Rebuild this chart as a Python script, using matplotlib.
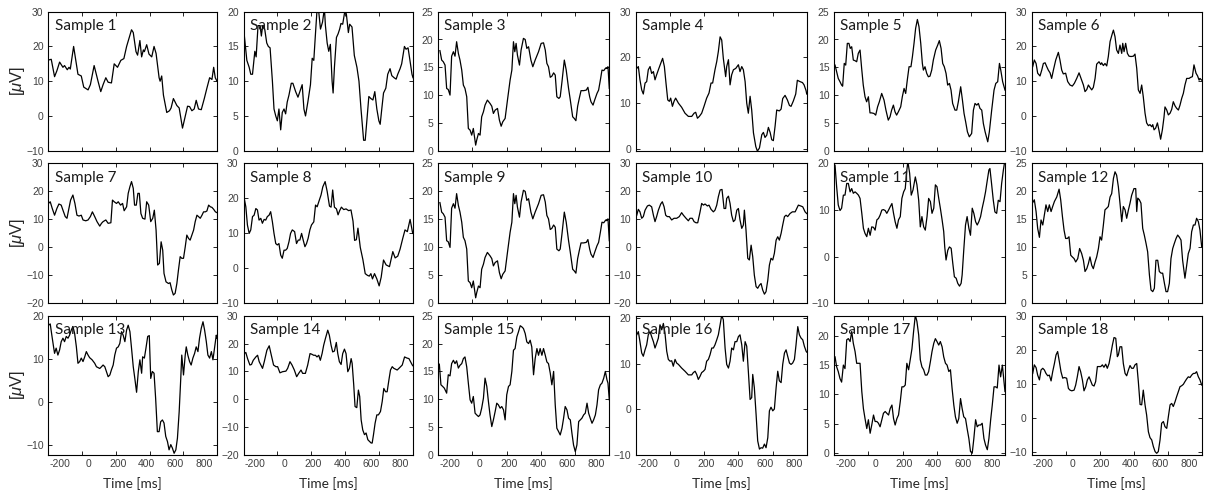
import matplotlib
matplotlib.use("Agg")
import matplotlib.pyplot as plt
from matplotlib.ticker import MultipleLocator

# ---------------- data (time in ms, amplitude in microvolts) ----------------
t1 = [-280,-261,-238,-222,-203,-180,-169,-150,-138,-129,-106,-76,-53,-36,-6,10,36,63,82,98,117,133,156,175,198,221,242,261,295,307,326,337,353,365,377,384,400,416,435,451,465,486,493,504,516,539,558,569,585,609,625,648,662,683,697,713,729,743,759,778,799,817,836,852,864,875,887]
v1 = [16.1,16.3,11.3,13,15.5,14,14.5,13.3,14,13.5,20,12,11.5,8.3,7.5,9,14.5,10,7,9,11,9.7,9.5,15,14,16,16.5,20,24.8,24,18.5,17.5,21.7,17,19,18.5,20.5,17.8,17,20,18,11,10,11.5,6,1,1.5,2.3,5,3,2.3,-3.5,-1,2.8,2.7,1.5,2,4.5,2,1.8,5,8,11,10.5,14,11,10]

t2 = [-275,-257,-241,-230,-218,-202,-193,-180,-166,-157,-148,-134,-120,-109,-97,-81,-70,-58,-47,-36,-24,-13,-1,10,21,33,49,60,79,95,108,124,136,147,163,181,193,204,216,227,238,250,264,277,284,296,307,318,330,337,346,360,371,382,391,403,417,428,442,451,467,483,501,515,529,547,558,570,583,597,611,624,638,652,661,672,684,700,713,729,741,757,771,782,798,809,828,839,853,866,880,887]
v2 = [16.7,13,12,11,11,14.3,13.5,18,18,16.5,18,17.5,15.5,15,14.8,10,6,5,4.3,6,3,5.5,6,5.3,7,8,9.7,9.7,8.5,7.7,8.5,9.5,6,5,7,9.5,13.3,13,17,20.5,20,17.5,18.5,20.5,18,15.5,14.3,15.3,10,8.3,12,16.3,16.8,17.5,18.3,18.2,20,19.7,17,18.2,17.8,13.7,12,10,6,1.5,1.5,4.5,7.8,7.5,7.3,8.5,6,4.3,3.8,6,8.3,9,11,11.8,10.8,10.5,10.3,11,11.8,12.5,15,14.6,14.8,13,11,10.5]

t3 = [-269,-257,-246,-234,-223,-212,-200,-189,-177,-166,-155,-143,-132,-120,-109,-98,-86,-75,-63,-52,-41,-25,-18,-6,5,16,28,39,55,73,85,96,108,124,137,149,160,176,192,210,222,233,242,251,260,274,285,301,313,324,336,352,365,381,404,422,438,450,461,472,484,495,507,518,529,543,552,564,580,593,609,621,637,648,659,671,682,694,712,730,741,753,762,776,787,803,814,826,837,849,860,871,878,887]
v3 = [18,16.3,16,15.4,11.2,11,10,17,17.8,17,19.6,17.5,16.3,14.5,11.8,11.2,9.7,4,3.7,2.8,4,1.0,1.9,3.1,2.8,6.1,7,8.2,9.1,8.5,8,6.7,7.3,7.6,5.5,4.4,5.2,5.8,9.1,12.7,14.5,19.6,17.8,19.3,17.2,15.4,18.1,20.2,20,18.4,18.7,16.3,15.1,16.3,17.8,19.3,19.4,18.1,15.7,15.1,13.2,13.4,14,13.6,9.7,9.4,9.7,12.4,16.3,14.5,11.2,9.1,6.1,5.8,5.4,8,9.4,10.8,10.8,10.9,11.4,9.7,8.8,8.2,9.1,10.3,10.9,12.7,14.5,14.4,14.8,14.8,15.1,11.2]

t4 = [-275,-264,-253,-241,-230,-218,-207,-196,-184,-173,-161,-150,-139,-127,-111,-98,-86,-75,-63,-52,-43,-31,-20,-9,10,32,55,78,101,117,128,140,153,169,185,203,219,233,244,260,272,283,295,306,317,333,340,352,363,374,386,402,420,431,443,454,466,477,488,500,511,523,539,550,564,580,591,602,614,625,637,648,659,671,682,700,712,723,739,755,769,780,796,812,823,842,858,869,883,887]
v4 = [17.6,18,15.1,12.9,12,14.4,14.7,17.3,18,16.5,16.9,15.1,16.2,17.3,18.7,19.8,18,14.4,10.7,10.4,11.1,9.3,10.4,11.1,10,9.1,7.8,7.1,7.1,7.8,8,6.7,7.1,7.8,9.3,11.1,12.2,14.4,14.4,17.3,19.1,21.3,24.5,23.8,19.8,15.8,18,19.5,14,16.2,17.3,17.6,18.4,16.9,18,17.3,14.7,10,7.8,11.5,8.5,3.5,0.5,-0.5,0.2,3.1,3.6,2.5,3,4.7,3.6,2,1.8,5,8.5,8.3,8.7,11,11.7,10.7,9.5,9.3,10.5,12,15,14.7,14.5,14,12.7,12]

t5 = [-275,-264,-253,-241,-230,-223,-212,-202,-191,-180,-171,-161,-150,-139,-127,-116,-104,-93,-82,-70,-59,-47,-36,-25,-9,3,16,28,44,60,73,89,101,112,124,135,146,158,174,185,197,208,219,231,244,254,265,276,288,299,311,322,329,340,352,363,374,386,397,413,427,438,450,461,472,484,495,507,518,529,545,557,568,584,596,607,618,630,643,659,671,682,694,705,716,728,739,751,769,780,796,812,824,837,849,858,871,887]
v5 = [15.4,14.2,13,12.4,11.8,11.6,15.7,15.4,19.3,19.3,18.4,18.7,16.3,16.2,16,17.5,18.1,14.8,11.8,9.7,8.8,9.7,6.8,6.8,6.7,6.4,7.9,8.8,10.3,9.1,7.3,5.5,6.1,7.3,8.2,7,6.4,7,7.9,9.7,11.2,10.3,12.7,15.1,15.1,16.9,19.3,22,23.6,22.3,19.3,15.7,14.5,15.1,13.9,13.3,13.4,14.5,16.3,18.1,19,19.8,18.4,15.7,15.1,13.9,11.8,12.1,10.9,8.5,7.3,7.3,8.8,11.5,9.1,6.7,5.2,3.4,2.5,3.1,7.3,8.5,8.2,8.5,7.6,7.3,4.9,3.4,1.6,3.4,7.3,10.9,12.1,12.4,15.7,14.5,12.4,10.9]

t6 = [-273,-262,-250,-239,-223,-211,-200,-188,-177,-166,-154,-143,-131,-115,-97,-86,-74,-63,-47,-33,-17,-1,13,29,45,63,75,86,98,109,120,132,143,155,166,182,194,200,212,223,235,246,258,274,281,292,303,315,326,338,345,354,365,377,388,402,418,429,441,452,464,475,486,498,509,521,532,544,551,560,571,583,594,605,617,628,635,647,658,670,681,692,704,715,727,738,750,761,772,784,800,811,823,834,848,859,869,875,887]
v6 = [14.2,16.1,15.1,12.3,11.5,13.2,15.1,15.3,14.2,13.2,12.4,10.8,13.2,16.1,18.3,16.1,13.2,12.1,12.3,9.9,8.9,8.6,9.4,10.8,12.4,10.3,8.9,7,7.6,8.9,8.2,7.5,8.2,10.8,14.9,15.6,14.8,15.3,14.5,15.1,14.4,17.1,21.4,23.8,24.7,22.8,19,18,20.4,18,20.9,18.5,20.9,18,17.2,17.1,17.2,17.8,13.7,7.5,6.5,8.9,5.5,0.8,-2,-2.8,-2.5,-3.1,-2.5,-4,-3.5,-2,-4.2,-6.7,-4,-0.4,2.6,1.7,0.3,0.8,1.9,4.1,2.9,2.2,1.7,3.1,5.1,6.5,8.9,10.8,10.8,11.1,11.3,14.7,12.3,11.5,10.3,10.8,10.3]

t7 = [-280,-268,-254,-238,-222,-208,-192,-180,-164,-152,-141,-127,-111,-97,-83,-69,-53,-41,-22,-6,10,24,40,56,75,87,98,117,133,152,163,175,191,203,219,233,244,261,272,284,295,307,316,328,339,349,360,372,388,400,414,428,442,453,465,476,488,500,511,520,534,551,562,574,585,597,609,620,632,643,655,667,678,690,701,713,725,736,748,759,771,783,794,806,817,829,841,852,864,876,887]
v7 = [15.7,16.3,13.9,11.5,13.9,15.5,15.1,13.3,11,10.4,13.3,16.9,18.7,15.7,11.5,11.2,11.5,9.8,9.5,9.8,11,12.7,11,9.2,7.6,8.6,9.2,9.8,8.6,8.8,16.9,16.3,15.7,16.3,15.1,15.7,13.1,14.5,19.3,21.7,23.5,21.1,15.1,15.1,19.3,19.3,12.1,10.4,10.1,16.3,15.1,9.2,10.4,13.3,6.2,-6.3,-5.7,2,-1,-9.3,-12.3,-12.9,-12.6,-15.2,-17,-16.4,-12.9,-8.1,-3.3,-3.9,-3.9,0.2,4.4,3.2,2.6,4.4,6.2,9.2,11.5,11,10.4,11.5,12.7,12.7,13,15.1,14.5,14.3,13.6,12.7,12.4]

t8 = [-275,-264,-253,-241,-230,-218,-207,-195,-184,-173,-161,-150,-138,-127,-116,-104,-93,-81,-70,-58,-47,-36,-24,-13,-1,10,21,33,44,56,72,85,97,108,120,131,143,154,165,177,188,204,216,227,238,254,266,282,296,312,323,334,346,360,371,382,394,410,426,444,460,474,485,497,508,524,542,558,574,586,597,608,622,638,654,668,684,702,725,748,764,782,798,816,832,848,867,885]
v8 = [20,17.6,12.4,10,11,14.8,15.2,17.1,16.7,13.8,14.3,12.9,14,13.8,14.8,15.2,16.2,13.3,10,7.1,6.7,7.1,3.8,2.9,5.2,5.2,5.7,7.6,10,11,10.5,7.1,8.1,8.1,10,8.1,6.2,7.1,8.6,11,12.4,13.3,18.1,17.6,19,21,23.3,24.8,22,17.8,17.5,22.4,17.5,17,15.3,16.5,17.5,16.8,17,16.5,16.7,13.5,8,8.2,11.5,6,2.5,-1.5,-2,-2.2,-1.5,-3,-1.5,-3,-5,-2.5,2.4,1,0.5,4.8,3,3.5,5.5,8.5,11,10.5,14,10]

t9 = list(t3)
v9 = list(v3)

t10 = [-275,-264,-253,-241,-230,-218,-202,-189,-173,-161,-150,-139,-127,-111,-100,-88,-77,-66,-52,-36,-20,-2,16,32,44,62,78,89,105,117,130,142,158,169,181,192,208,219,233,249,260,272,283,295,308,322,333,340,352,363,374,386,397,409,420,431,443,454,461,472,484,495,507,518,529,541,552,564,575,586,598,609,621,632,643,655,666,678,689,700,712,723,735,746,757,773,789,808,819,830,846,860,876,887]
v10 = [11.5,13.6,12.7,10.4,11,13.3,14.8,15.1,14.5,11.5,9.2,11,13.3,15.5,16.3,14.5,11.5,11,11,9.8,10.4,10.4,11,12.4,11.5,10.4,9.5,10.4,10.4,9.2,8.8,8.8,12.7,15.7,15.1,15.5,14.8,15.1,13.6,12.7,13.3,15.1,18.1,20.5,20.7,13.9,13.9,17.5,18.3,15.7,11.5,9.2,9.8,13.3,13.9,9.8,6.8,8,13.3,6.2,-3.9,-4.5,0.8,-3.3,-9.9,-14,-14.6,-13.5,-12.9,-15.2,-16.7,-15.8,-11.7,-6.3,-3.9,-4.5,-2.1,2.6,3.8,2.6,5,8,11,11.5,11,12.1,12.7,12.7,13.9,15.1,14.8,14.5,12.7,12.1]

t11 = [-275,-264,-253,-241,-230,-218,-207,-195,-184,-172,-161,-150,-138,-127,-115,-104,-92,-81,-70,-58,-47,-35,-24,-12,-1,11,22,33,45,56,68,79,91,102,114,125,136,148,159,171,182,194,205,216,223,235,246,258,274,285,297,308,319,331,342,354,365,377,388,400,411,422,434,445,457,468,475,484,496,507,519,530,541,553,564,576,587,594,605,617,628,640,651,663,674,686,697,708,720,731,743,754,766,777,784,795,807,818,830,841,853,864,876,885]
v11 = [19.6,15,11.1,9.9,10.4,13.2,13.2,15.7,15.7,13.9,14.6,13.6,13.9,13.6,13.2,12.5,9.3,6.1,5,4.3,6.1,4.6,6.4,6.3,5.7,7.9,8.2,8.9,10,10.1,9.9,9.3,10,10.7,11.4,9.3,7.5,6.1,7.9,8.6,12.5,13.9,14.6,18.6,20.4,17.9,13.2,14.3,17.1,15.4,12.1,6.4,8.6,6.4,5.7,8.6,12.5,11.8,9.3,10.4,15.4,15,12.5,10.4,7.9,5.4,2.1,-0.7,1.4,2.1,1.8,-1.4,-4.3,-4.6,-5.7,-6.3,-5.7,-3.9,1.4,6.8,8.6,6.1,4.6,10.4,9.3,7.5,6.8,7.5,8.6,10.4,12.1,13.9,16.4,18.6,18.9,15.7,12.1,9.6,9.3,12.1,11.8,15.7,18.6,20.4]

t12 = [-273,-262,-250,-239,-227,-216,-204,-193,-182,-170,-159,-147,-136,-124,-108,-92,-81,-69,-58,-47,-35,-24,-12,-1,11,22,36,49,63,75,86,98,109,120,132,143,155,166,178,189,200,212,223,235,246,258,269,281,292,303,315,326,338,349,361,372,384,395,406,422,434,441,448,459,470,482,493,505,516,528,539,551,562,573,585,596,608,619,631,642,653,665,676,688,699,711,722,734,745,756,772,784,795,807,818,830,841,852,864,875,887]
v12 = [18,18.5,16.4,13.4,11.8,14.9,14,15.8,17.6,16.4,17.6,16.4,17.3,18.2,19,20.4,18.5,15.5,13.1,11.6,11.6,11.9,8.6,8.3,8,7.4,8,9.8,8.9,7.7,5.7,6.2,7.1,8.3,6.8,6.2,7.4,8.3,9.8,11.9,11.3,14,16.7,17,17.3,19,19.6,22.3,23.5,22.9,20.8,17.9,14.6,17.3,16.7,15.2,16.7,17.9,19.3,20.5,20.5,16.4,18.8,18.5,17.9,13.4,12.2,10.7,9.2,5.1,2.4,2.1,2.7,7.7,7.7,5.7,5.4,5.4,3.6,2.1,2.1,3.6,8,9.8,10.7,11.6,12.2,11.8,11.3,7.7,4.5,6.8,8.9,9.8,12.8,14,14,15.2,14.6,13.1,10.1]

t13 = [-280,-268,-257,-245,-238,-227,-215,-203,-192,-180,-169,-157,-145,-134,-122,-111,-99,-87,-76,-64,-53,-41,-29,-18,-6,5,22,40,52,75,87,98,110,121,133,145,156,168,179,191,203,214,226,237,249,261,272,284,295,307,319,330,342,353,365,372,384,395,407,418,428,439,451,462,474,486,497,509,520,532,544,555,567,578,590,602,613,625,636,643,655,667,674,685,697,708,720,732,743,755,766,778,790,801,813,824,836,848,859,871,882,887]
v13 = [17.8,18.1,15.5,12.8,11.3,12.5,10.9,12.1,14,14.8,14,15.2,14.8,15.5,16.7,17.5,15.9,12.8,9,9.4,10.2,9.4,10.5,11.7,10.9,10.3,9.8,9,8.2,7.8,8.2,8.6,8.2,7.1,5.9,6.3,7.5,8.6,10.9,12.5,12.8,13.6,16.3,15.5,14,16.7,17.8,16.3,12.5,8.2,5.2,2.3,7.1,9.8,6.7,10.5,10.2,12.5,15.2,15.4,5.5,7.1,6.7,0.9,-6.8,-6.8,-4.5,-4.1,-4.8,-7.9,-9.1,-11,-9.8,-10.6,-11.8,-11,-8.3,-2.2,5.5,10.9,6.3,10.9,12.8,10.9,9.4,8.6,10.2,11.3,12.8,11.7,14.8,17.1,18.6,16.7,14,10.9,10.2,11.7,9.8,12.8,15.5,14.8]

t14 = [-275,-264,-252,-236,-225,-213,-195,-183,-172,-149,-137,-119,-103,-91,-73,-57,-45,-29,-11,12,24,40,54,70,86,100,116,127,146,162,178,189,203,215,226,238,249,261,272,284,300,311,323,334,346,359,369,380,392,403,415,426,438,449,461,468,479,488,500,511,520,530,541,553,564,576,587,599,606,615,626,638,649,663,675,686,698,709,721,732,744,755,767,778,794,813,829,845,859,870,882,887]
v14 = [16.4,16.8,14.6,12.3,12.5,14,15.2,15.8,13.5,11.1,13.5,17.6,19.2,16.4,12.3,11.7,11.7,9.5,9.9,10.1,11.1,13.5,12.3,10.5,8.1,9.3,10.5,9.3,9.3,12.3,16.4,16.2,15.8,15.8,15.2,15.8,14,16.4,19.4,21.8,24.8,23,19.4,17,17.3,20.4,16.4,13.5,12.5,16.4,18,16.4,9.9,11.1,14.6,12.9,5.1,-2.6,-3,3.3,1,-7.4,-11,-12.7,-12.1,-14.5,-15.1,-15.7,-15.7,-12.7,-8.6,-5.6,-5.6,-4.4,-0.8,3.9,2.7,2.7,6.9,10.5,11.7,11.1,10.8,10.5,11.3,12.3,15.2,14.8,14.6,13.5,12.3,12]

t15 = [-273,-262,-250,-239,-223,-212,-200,-189,-177,-166,-155,-143,-132,-120,-109,-98,-86,-75,-63,-52,-41,-29,-18,-6,5,16,28,39,51,62,73,85,96,108,119,130,142,153,165,176,187,199,210,222,233,244,256,267,279,290,301,313,324,336,347,358,370,381,393,404,415,427,438,450,461,472,484,495,507,518,529,541,552,564,575,586,598,609,621,632,643,655,666,678,689,700,712,723,735,746,757,769,780,792,803,814,826,837,849,860,871,878,887]
v15 = [16.3,12.6,12.3,12,11.1,14.4,14.2,16.4,17,16.4,16.9,15.6,16.1,16.4,17.3,17.6,15.8,12.9,9.9,9.3,10.5,7.5,7.2,6.9,7.2,8.4,10.2,13.8,12.3,9.6,7.2,5.1,6.3,7.8,9.3,9,8.4,8.7,8.1,6.3,10.8,12.3,12.6,15,18.8,19.1,21.2,22.1,23.2,23,22.7,21.8,20.3,20,20.6,19.4,14.4,17.3,19.1,17.9,19.1,17.9,19.1,17.9,16.7,16.4,14.7,12.6,15,9,4.8,4.2,3.6,4.8,6.6,8.7,8.1,6.6,6.3,3.9,1.8,0.6,1.8,6,6.3,6.6,7.2,7.5,9.3,7.5,6.6,5.7,6.3,7.2,9,11.7,12.6,12.9,13.8,15,13.5,12.9,9.9]

t16 = [-275,-264,-253,-241,-230,-218,-207,-196,-184,-173,-161,-150,-139,-127,-116,-104,-93,-82,-70,-59,-47,-36,-25,-13,-2,10,32,55,78,101,112,124,135,146,158,169,181,192,203,215,226,238,249,260,272,283,295,306,317,329,340,352,363,374,386,397,409,420,431,443,454,466,477,488,500,511,518,529,541,552,564,575,586,598,609,621,632,643,655,666,678,689,700,712,723,735,746,757,769,780,791,803,814,826,837,848,860,871,883,887]
v16 = [16.4,17.1,14.9,12.4,11.7,13.1,14.2,16.4,17.1,16,14.9,13.5,14.5,15.7,18.6,17.5,18.9,16.8,12.8,11,10.6,10.7,9.5,11,10.2,9.9,9.1,8.4,7.6,7.6,8.1,8.4,7.7,6.6,7.3,8.1,8.4,8.8,10.6,11,12,13.5,13.5,14.2,15.3,16.4,18.6,20.7,19.7,13.5,9.9,9.1,10.6,13.5,13.1,14.9,14.9,16,16.4,14.2,10.6,14.9,13.9,8.4,2.2,2.6,7.7,4.8,-1.1,-6.9,-8.7,-8.4,-8.5,-7.6,-8.4,-6.2,-0.3,0.5,-0.3,0.1,4.8,8.4,6.3,5.9,9.9,12.4,13.1,11.7,10.2,9.9,10.2,11,14.2,18.2,16.4,15.7,15.3,13.9,12.8,12.6]

t17 = [-275,-264,-253,-241,-230,-218,-207,-195,-184,-172,-161,-150,-138,-127,-115,-104,-92,-81,-70,-58,-47,-35,-24,-12,-1,11,22,33,45,56,68,79,91,102,114,125,136,148,159,171,182,194,205,216,228,239,251,262,274,285,297,308,319,331,342,354,365,377,388,400,411,422,434,445,457,468,480,491,503,514,525,537,548,560,571,583,594,605,617,628,640,651,663,674,686,697,708,720,731,743,754,766,777,789,800,812,823,834,846,857,869,880,887]
v17 = [16.4,14.7,13.9,12.7,12.1,15,14.4,19.3,19.5,19,20.7,18.7,17.3,15.3,15.3,15.3,10.5,7.6,5.9,4.2,5.7,3.4,4.8,6.5,5.4,5.4,5.1,4.5,5.7,6.8,7.1,6.8,6.5,7.6,8.2,5.9,4.8,5.9,6.5,8.8,11.3,11.3,11.6,15.3,14.2,15.9,17.8,20.7,23.5,22.4,20.1,15.9,14.7,14.2,13.3,13.3,13.9,15.6,17.3,18.7,19.5,19,18.4,19,18.1,16.4,15.3,15,13.9,14.2,11.1,8.2,6.2,5.1,5.9,9.3,7.6,6.2,5.9,4.2,2.5,0.3,0,2.5,5.7,4.5,4.8,4.8,5.1,2.5,1.4,0.6,2.5,5.7,8.2,11.3,11.3,11.1,15,13,15,12.2,10.5]

t18 = [-273,-262,-250,-239,-227,-216,-204,-193,-182,-170,-159,-147,-136,-124,-113,-102,-90,-79,-67,-56,-40,-28,-17,-5,11,22,33,45,56,68,79,91,102,114,125,136,148,159,171,182,194,205,216,228,239,251,262,274,285,297,308,315,326,338,349,361,372,384,395,406,418,429,441,452,464,475,486,498,509,521,532,544,555,567,578,589,601,612,624,635,647,658,670,681,692,704,715,727,738,750,761,772,784,795,807,818,830,841,852,864,875,887]
v18 = [13.1,15.6,14.8,12.6,11.2,14.1,14.6,14.1,13.1,12.4,12.6,10.9,13.6,16,18.5,19.5,16.5,13.6,11.7,11.9,11.7,8.7,8.2,8,8.2,9.7,12.1,15.1,13.6,11.2,8,9.2,11.2,12.1,10.9,9.7,9.4,10.7,15.1,15.1,15.1,15.6,14.9,15.8,14.6,16,18.5,21.4,23.6,23.4,18,18.5,20.9,20.9,16,13.1,12.4,14.1,15.4,14.6,14.6,15.6,16,10.7,4,3.9,8.2,3.9,0.9,-4,-5.7,-6.4,-8.3,-9.8,-10.3,-9.8,-6.4,-1.5,-1,-2.5,-3,0.4,3.9,4.3,3.4,4.8,6.3,7.8,9.2,9.5,9.9,10.7,11.5,12.1,11.9,12.6,13.1,13.1,13.6,12.1,11.2,9.7]

sample_names = ["Sample %d" % i for i in range(1, 19)]
y_limits = [(-10, 30), (0, 20), (0, 25), (-0.4, 30), (0, 25), (-10, 30),
            (-20, 30), (-10, 30), (0, 25), (-20, 30), (-10, 20), (0, 25),
            (-12.2, 20), (-20, 30), (0, 25), (-10, 20.6), (-0.3, 23.4), (-10.8, 30)]
y_steps = [10, 5, 5, 10, 5, 10,
           10, 10, 5, 10, 10, 5,
           10, 10, 5, 10, 5, 10]
time_ticks = [-200, 0, 200, 400, 600, 800]
x_limits = (-280, 887)

times = [t1, t2, t3, t4, t5, t6, t7, t8, t9, t10, t11, t12, t13, t14, t15, t16, t17, t18]
values = [v1, v2, v3, v4, v5, v6, v7, v8, v9, v10, v11, v12, v13, v14, v15, v16, v17, v18]

# ---------------- style / layout ----------------
plt.rcParams['mathtext.fontset'] = 'custom'
plt.rcParams['mathtext.rm'] = 'Liberation Sans'
plt.rcParams['mathtext.it'] = 'Liberation Sans:italic'

W, H = 1210, 493
fig = plt.figure(figsize=(W / 100, H / 100), dpi=100)

col_left = [48.5, 243.5, 438.3, 636.0, 834.3, 1031.7]
col_width = [168.5, 169.5, 171.0, 170.7, 170.7, 170.0]
row_top = [11.7, 163.4, 315.7]
row_height = [139.0, 140.0, 139.3]

tick_color = '#404040'

for idx in range(18):
    r, c = divmod(idx, 6)
    l = col_left[c] / W
    b = 1 - (row_top[r] + row_height[r]) / H
    ax = fig.add_axes([l, b, col_width[c] / W, row_height[r] / H])
    t, v = times[idx], values[idx]
    n = min(len(t), len(v))
    ax.plot(t[:n], v[:n], color='black', lw=0.9, solid_joinstyle='round')
    ax.set_xlim(*x_limits)
    ax.set_ylim(*y_limits[idx])
    ax.yaxis.set_major_locator(MultipleLocator(y_steps[idx]))
    # tick marks at five equal divisions, labels at time values
    span = x_limits[1] - x_limits[0]
    ax.set_xticks([x_limits[0] + k * span / 5 for k in range(1, 5)])
    ax.set_xticks(time_ticks, minor=True)
    ax.set_xticklabels([str(x) for x in time_ticks], minor=True)
    ax.tick_params(which='major', direction='in', length=3, width=0.6,
                   top=True, right=True, labelbottom=False,
                   labelsize=7.5, labelcolor=tick_color, pad=3.5)
    ax.tick_params(axis='x', which='minor', length=0, top=False, bottom=False,
                   labelbottom=(r == 2), labelsize=7.5, labelcolor=tick_color, pad=3)
    ax.tick_params(axis='y', which='minor', left=False, right=False)
    for lab in ax.get_xticklabels(minor=True) + ax.get_yticklabels():
        lab.set_fontfamily('Liberation Sans')
    for s in ax.spines.values():
        s.set_linewidth(0.8)
        s.set_color('black')
    ax.text(0.036, 0.868, sample_names[idx], transform=ax.transAxes,
            ha='left', va='baseline', fontsize=11, family='Lato', color='#1a1a1a')
    if c == 0:
        fig.text(17.5 / W, 1 - (row_top[r] + row_height[r] / 2) / H, r'[$\mu$V]',
                 rotation=90, ha='center', va='center', fontsize=12,
                 family='Liberation Sans', color='#262626')
    if r == 2:
        fig.text((col_left[c] + col_width[c] / 2) / W, 1 - 483.5 / H, 'Time [ms]',
                 ha='center', va='center', fontsize=9.8, family='Lato', color='#262626')

fig.savefig('out.png', dpi=100)
